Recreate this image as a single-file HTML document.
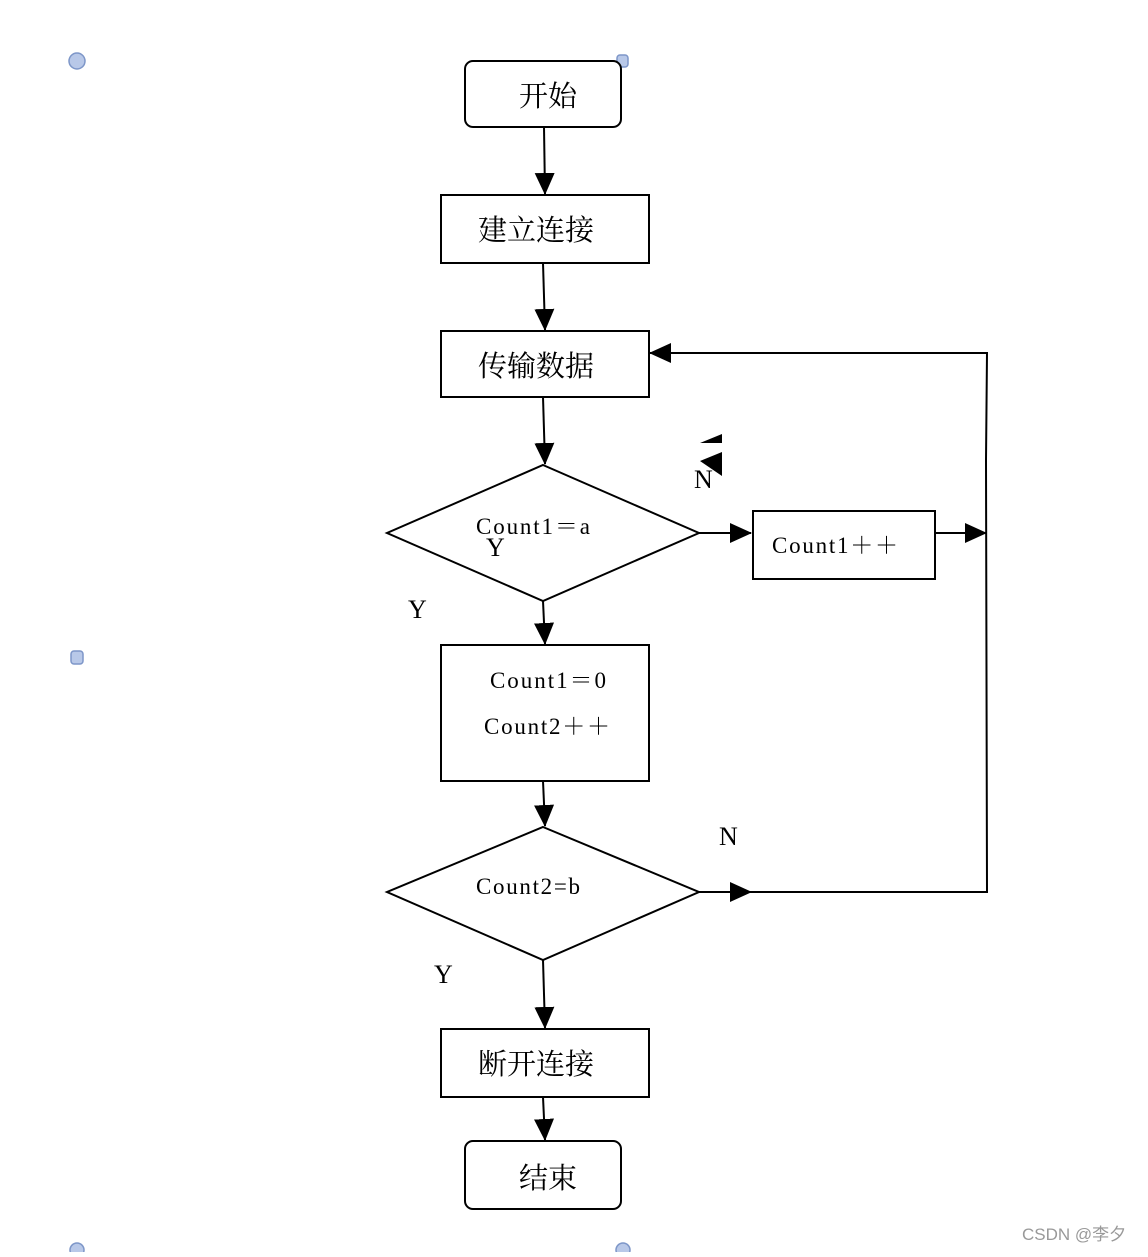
<!DOCTYPE html>
<html><head><meta charset="utf-8"><style>
html,body{margin:0;padding:0;background:#fff;}
svg text{font-family:"Liberation Serif","Noto Serif CJK SC",serif;fill:#000;}
</style></head><body>
<svg width="1148" height="1252" viewBox="0 0 1148 1252" xmlns="http://www.w3.org/2000/svg">
<defs>
<marker id="a" markerWidth="22" markerHeight="20" refX="21" refY="10" orient="auto" markerUnits="userSpaceOnUse">
<path d="M0,0 L22,10 L0,20 z" fill="#000"/></marker>
<marker id="b" markerWidth="22" markerHeight="20" refX="21" refY="10" orient="auto" markerUnits="userSpaceOnUse">
<path d="M0,0 L22,10 L0,20 z" fill="#000"/></marker>
</defs>
<g fill="#b8c8e8" stroke="#7d96c8" stroke-width="1.5">
<circle cx="77" cy="61" r="8"/><rect x="617" y="55" width="11" height="12" rx="3"/>
<rect x="71" y="651" width="12" height="13" rx="3"/>
<circle cx="77" cy="1250" r="7"/><circle cx="623" cy="1250" r="7"/>
</g>
<g stroke="#000" stroke-width="2" fill="none">
<rect x="465" y="61" width="156" height="66" rx="8" fill="#fff"/>
<rect x="441" y="195" width="208" height="68"/>
<rect x="441" y="331" width="208" height="66"/>
<polygon points="543,465 699,533 543,601 387,533"/>
<rect x="753" y="511" width="182" height="68"/>
<rect x="441" y="645" width="208" height="136"/>
<polygon points="543,827 699,892 543,960 387,892"/>
<rect x="441" y="1029" width="208" height="68"/>
<rect x="465" y="1141" width="156" height="68" rx="8"/>
<line x1="544" y1="127" x2="545" y2="194" marker-end="url(#a)"/>
<line x1="543" y1="263" x2="545" y2="330" marker-end="url(#a)"/>
<line x1="543" y1="397" x2="545" y2="464" marker-end="url(#a)"/>
<line x1="543" y1="601" x2="545" y2="644" marker-end="url(#a)"/>
<line x1="543" y1="781" x2="545" y2="826" marker-end="url(#a)"/>
<line x1="543" y1="960" x2="545" y2="1028" marker-end="url(#a)"/>
<line x1="543" y1="1097" x2="545" y2="1140" marker-end="url(#a)"/>
<line x1="699" y1="533" x2="751" y2="533" marker-end="url(#a)"/>
<line x1="935" y1="533" x2="986" y2="533" marker-end="url(#a)"/>
<line x1="699" y1="892" x2="751" y2="892" marker-end="url(#a)"/>
<polyline points="751,892 987,892 986,460 987,353 650,353" marker-end="url(#b)"/>
</g>
<path d="M700,443 L722,434 L722,443 z M700,461 L722,452 L722,476 z" fill="#000"/>
<g font-size="29" text-anchor="middle">
<text x="548" y="106">开始</text>
<text x="536" y="240">建立连接</text>
<text x="536" y="376">传输数据</text>
<text x="536" y="1074">断开连接</text>
<text x="548" y="1188">结束</text>
</g>
<g font-size="23">
<text x="476" y="534" textLength="114" lengthAdjust="spacing">Count1＝a</text>
<text x="772" y="553" textLength="126" lengthAdjust="spacing">Count1＋＋</text>
<text x="490" y="688" textLength="116" lengthAdjust="spacing">Count1＝0</text>
<text x="484" y="734" textLength="126" lengthAdjust="spacing">Count2＋＋</text>
<text x="476" y="894" textLength="104" lengthAdjust="spacing">Count2=b</text>
</g>
<g font-size="26">
<text x="694" y="488">N</text>
<text x="486" y="556">Y</text>
<text x="408" y="618">Y</text>
<text x="719" y="845">N</text>
<text x="434" y="983">Y</text>
</g>
<text x="1022" y="1240" font-size="17" style="font-family:'Liberation Sans','Noto Sans CJK SC',sans-serif;fill:#999">CSDN @李夕</text>
</svg>
</body></html>
